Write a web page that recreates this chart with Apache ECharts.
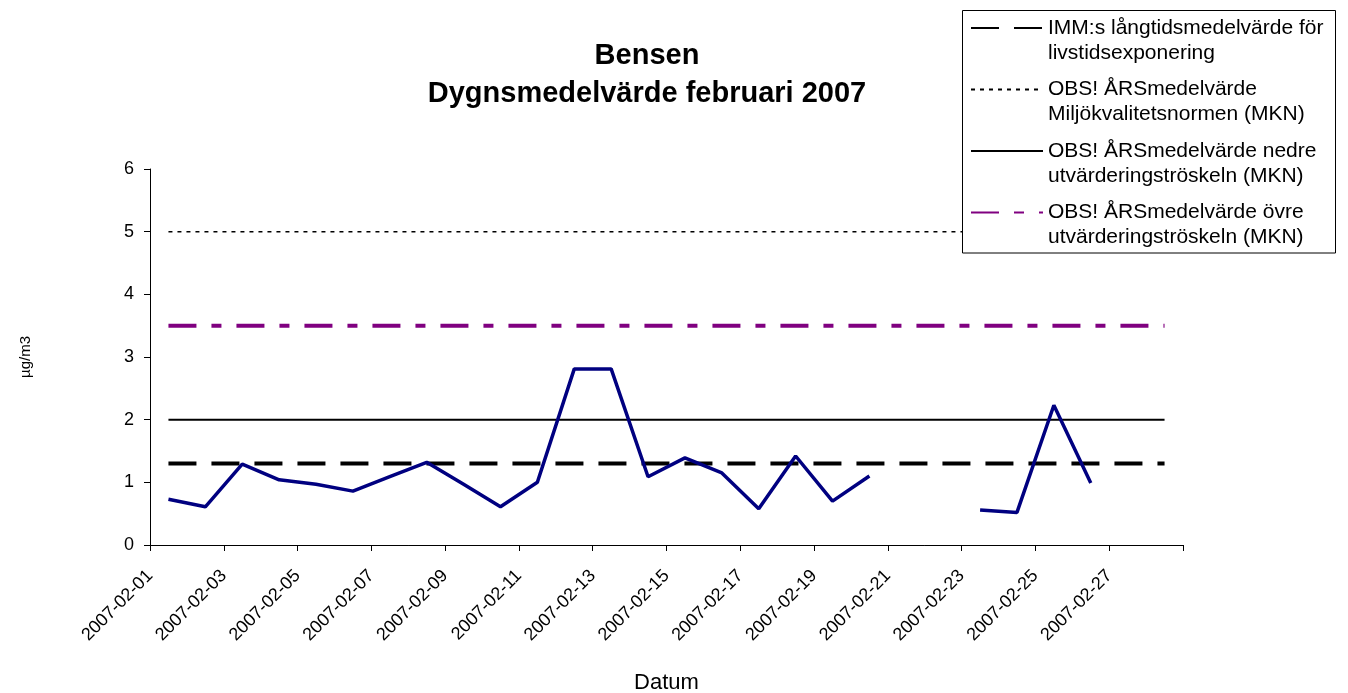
<!DOCTYPE html>
<html>
<head>
<meta charset="utf-8">
<script src="https://cdn.jsdelivr.net/npm/echarts@6/dist/echarts.min.js"></script>
<style>html,body{margin:0;padding:0;background:#fff}#c{width:1348px;height:693px}</style>
</head>
<body>
<div id="c"></div>
<script>
// ---- data ----
const dates = ['2007-02-01','2007-02-02','2007-02-03','2007-02-04','2007-02-05','2007-02-06','2007-02-07',
  '2007-02-08','2007-02-09','2007-02-10','2007-02-11','2007-02-12','2007-02-13','2007-02-14',
  '2007-02-15','2007-02-16','2007-02-17','2007-02-18','2007-02-19','2007-02-20','2007-02-21',
  '2007-02-22','2007-02-23','2007-02-24','2007-02-25','2007-02-26','2007-02-27','2007-02-28'];
// labels at category boundaries (29 boundaries for 28 days)
const tickLabels = ['2007-02-01','2007-02-02','2007-02-03','2007-02-04','2007-02-05','2007-02-06','2007-02-07',
  '2007-02-08','2007-02-09','2007-02-10','2007-02-11','2007-02-12','2007-02-13','2007-02-14',
  '2007-02-15','2007-02-16','2007-02-17','2007-02-18','2007-02-19','2007-02-20','2007-02-21',
  '2007-02-22','2007-02-23','2007-02-24','2007-02-25','2007-02-26','2007-02-27','2007-02-28',''];
const bensen = [0.73, 0.61, 1.29, 1.04, 0.97, 0.86, 1.09, 1.32, 0.97, 0.61, 1.00, 2.81, 2.81, 1.09,
  1.39, 1.15, 0.58, 1.42, 0.70, 1.10, null, null, 0.56, 0.52, 2.23, 0.99, null, null];
const levelNames = [
  'IMM:s långtidsmedelvärde för\nlivstidsexponering',
  'OBS! ÅRSmedelvärde\nMiljökvalitetsnormen (MKN)',
  'OBS! ÅRSmedelvärde nedre\nutvärderingströskeln (MKN)',
  'OBS! ÅRSmedelvärde övre\nutvärderingströskeln (MKN)'
];
const levelValues = [1.3, 5, 2, 3.5];
const yTicks = [0, 6, 1]; // min, max, interval

// ---- styles ----
const FONT = 'Liberation Sans, Arial, sans-serif';
const levelStyles = [
  {color:'#000000', width:4, type:[28,15]},
  {color:'#000000', width:1.5, type:[4,5]},
  {color:'#000000', width:2, type:'solid'},
  {color:'#800080', width:4, type:[28,15,10,15]}
];

const series = levelNames.map((n, i) => ({
  name: n,
  type: 'line',
  xAxisIndex: 0,
  data: [[dates[0], levelValues[i]], [dates[dates.length - 1], levelValues[i]]],
  symbol: 'none',
  silent: true,
  lineStyle: levelStyles[i],
  itemStyle: {color: levelStyles[i].color},
  z: 2
}));
series.push({
  name: 'Bensen',
  type: 'line',
  xAxisIndex: 0,
  data: bensen,
  symbol: 'none',
  connectNulls: false,
  lineStyle: {color:'#000080', width:3.5},
  itemStyle: {color:'#000080'},
  z: 3
});

const chart = echarts.init(document.getElementById('c'), null, {renderer:'canvas'});
chart.setOption({
  animation: false,
  backgroundColor: '#ffffff',
  title: {
    text: 'Bensen\nDygnsmedelvärde februari 2007',
    left: 647,
    top: 37,
    padding: 0,
    textAlign: 'center',
    textStyle: {fontFamily: FONT, fontSize: 29, fontWeight: 'bold', lineHeight: 38, color: '#000'}
  },
  legend: {
    orient: 'vertical',
    left: 970,
    top: -9.5,
    padding: 0,
    itemWidth: 72,
    itemHeight: 14,
    itemGap: -13.5,
    selectedMode: false,
    data: levelNames,
    formatter: name => '\n' + name,
    itemStyle: {opacity: 0, borderWidth: 0},
    textStyle: {fontFamily: FONT, fontSize: 21, color: '#000', lineHeight: 25}
  },
  graphic: [{
    type: 'rect',
    z: 3,
    shape: {x: 962.5, y: 10.5, width: 373, height: 242.5},
    style: {fill: '#fff', stroke: '#000', lineWidth: 1},
    silent: true
  }],
  grid: {left: 150, right: 165, top: 169, bottom: 148, containLabel: false, outerBoundsMode: 'none'},
  xAxis: [{
    type: 'category',
    data: dates,
    boundaryGap: true,
    position: 'bottom',
    axisLine: {show: false},
    axisTick: {show: false},
    axisLabel: {show: false},
    splitLine: {show: false}
  }, {
    type: 'category',
    data: tickLabels,
    boundaryGap: false,
    position: 'bottom',
    axisLine: {show: true, lineStyle: {color: '#000', width: 1}},
    axisTick: {show: true, interval: 1, length: 6, lineStyle: {color: '#000'}},
    axisLabel: {show: true, interval: 1, rotate: 45, margin: 28, fontFamily: FONT, fontSize: 18, color: '#000'},
    splitLine: {show: false},
    name: 'Datum',
    nameLocation: 'middle',
    nameGap: 127,
    nameTextStyle: {fontFamily: FONT, fontSize: 22, color: '#000'}
  }],
  yAxis: {
    type: 'value',
    min: yTicks[0], max: yTicks[1], interval: yTicks[2],
    axisLine: {show: true, lineStyle: {color: '#000', width: 1}},
    axisTick: {show: true, length: 6, lineStyle: {color: '#000'}},
    splitLine: {show: false},
    axisLabel: {margin: 16, fontFamily: FONT, fontSize: 18, color: '#000'},
    name: 'µg/m3',
    nameLocation: 'middle',
    nameGap: 117,
    nameTextStyle: {fontFamily: FONT, fontSize: 15, color: '#000'}
  },
  series: series
});
</script>
</body>
</html>
